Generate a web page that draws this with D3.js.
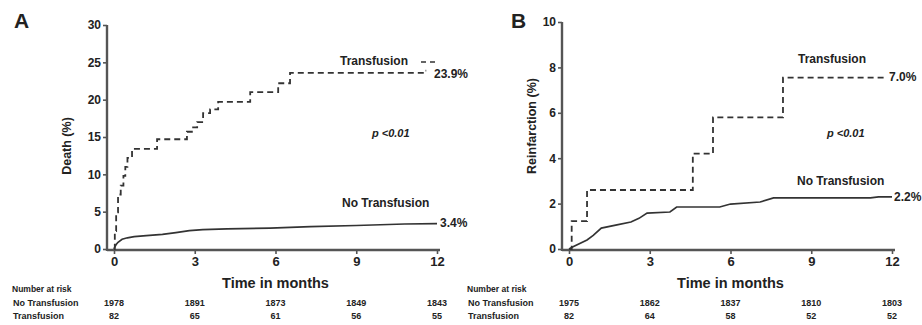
<!DOCTYPE html>
<html><head><meta charset="utf-8">
<script src="https://cdn.jsdelivr.net/npm/d3@7"></script>
<style>
body{margin:0;background:#fff;}
text{font-family:"Liberation Sans",Arial,sans-serif;fill:#222;}
</style></head>
<body>
<svg id="c" width="922" height="325"></svg>
<script>
// ---------- data ----------
const xTicks = [0, 3, 6, 9, 12];
const yTicksA = [0, 5, 10, 15, 20, 25, 30];
const yTicksB = [0, 2, 4, 6, 8, 10];

// Panel A: death
const deathTransfusion = [
  [0,0],[0.03,2.4],[0.08,4.9],[0.15,7.3],[0.25,8.5],[0.35,9.8],[0.42,11.0],[0.5,12.2],
  [0.67,13.4],[1.6,14.7],[2.71,15.7],[2.94,16.3],[3.09,17.0],[3.31,18.2],[3.57,18.7],
  [3.87,19.7],[5.06,21.0],[6.1,22.2],[6.54,23.6],[11.55,23.9],[11.6,23.9]
];
const deathNoTransfusion = [
  [0,0],[0.03,0.3],[0.08,0.6],[0.15,0.9],[0.3,1.3],[0.5,1.5],[0.75,1.65],[1.2,1.8],
  [1.8,1.95],[2.3,2.2],[2.8,2.45],[3.3,2.6],[4.2,2.7],[5.8,2.8],[7.3,3.0],[9.0,3.15],
  [10.8,3.35],[12,3.4]
];
// Panel B: reinfarction
const reinfTransfusion = [
  [0,0],[0.1,1.23],[0.67,2.6],[4.6,4.2],[5.35,5.8],[7.95,7.55],[11.7,7.55]
];
const reinfNoTransfusion = [
  [0,0],[0.15,0.1],[0.67,0.4],[0.9,0.6],[1.2,0.92],[1.78,1.06],[2.3,1.19],[2.6,1.35],
  [2.9,1.58],[3.75,1.63],[4.0,1.85],[5.6,1.85],[6.0,1.98],[7.1,2.07],[7.6,2.25],
  [11.2,2.25],[11.5,2.3],[12,2.3]
];

const riskA_no = ["1978","1891","1873","1849","1843"];
const riskA_tr = ["82","65","61","56","55"];
const riskB_no = ["1975","1862","1837","1810","1803"];
const riskB_tr = ["82","64","58","52","52"];

// ---------- drawing ----------
const svg = d3.select("#c");
const axisColor = "#555";
const lineColor = "#333";

function panel(cfg){
  const g = svg.append("g");
  const x = d3.scaleLinear().domain([0,12]).range(cfg.xr);
  const y = d3.scaleLinear().domain(cfg.yd).range(cfg.yr);
  const axX = cfg.xr[0] - 7;
  const axY = cfg.yr[0] + 1;

  // y axis
  const ya = g.append("g").attr("transform",`translate(${axX},0)`)
    .call(d3.axisLeft(y).tickValues(cfg.yTicks).tickSize(4).tickPadding(2));
  ya.select(".domain").remove();
  ya.selectAll("line").attr("stroke",axisColor).attr("stroke-width",1.6);
  ya.selectAll("text").style("font-size","12px").style("font-weight","bold").attr("fill","#222");
  g.append("line").attr("x1",axX).attr("x2",axX).attr("y1",y(cfg.yd[1])).attr("y2",axY+1)
    .attr("stroke",axisColor).attr("stroke-width",2.4);

  // x axis
  const xa = g.append("g").attr("transform",`translate(0,${axY})`)
    .call(d3.axisBottom(x).tickValues(xTicks).tickSize(4).tickPadding(3));
  xa.select(".domain").remove();
  xa.selectAll("line").attr("stroke",axisColor).attr("stroke-width",1.6);
  xa.selectAll("text").style("font-size","13px").style("font-weight","bold").attr("fill","#222");
  g.append("line").attr("x1",axX).attr("x2",x(12)+3).attr("y1",axY).attr("y2",axY)
    .attr("stroke",axisColor).attr("stroke-width",2.4);

  // axis titles
  g.append("text").attr("x",(x(0)+x(12))/2).attr("y",288).attr("text-anchor","middle")
    .style("font-size","14.5px").style("font-weight","bold").text("Time in months");
  g.append("text").attr("transform",`translate(${cfg.ytx},${cfg.yty}) rotate(-90)`)
    .attr("text-anchor","middle").style("font-size","12.5px").style("font-weight","bold").text(cfg.ytitle);

  // panel letter
  g.append("text").attr("x",cfg.letterX).attr("y",28).style("font-size","21px")
    .style("font-weight","bold").attr("fill","#111").text(cfg.letter);

  const step = d3.line().x(d=>x(d[0])).y(d=>y(d[1])).curve(d3.curveStepAfter);
  const smooth = d3.line().x(d=>x(d[0])).y(d=>y(d[1])).curve(d3.curveLinear);
  g.append("path").datum(cfg.solid).attr("d",smooth).attr("fill","none")
    .attr("stroke",lineColor).attr("stroke-width",1.7);
  g.append("path").datum(cfg.dashed).attr("d",step).attr("fill","none")
    .attr("stroke",lineColor).attr("stroke-width",1.8).attr("stroke-dasharray","6,4");

  // annotations
  for (const a of cfg.labels){
    g.append("text").attr("x",a.x).attr("y",a.y).attr("text-anchor",a.anchor||"start")
      .style("font-size",(a.size||12)+"px").style("font-weight","bold")
      .style("font-style",a.italic?"italic":"normal").text(a.t);
  }
  if (cfg.extra) cfg.extra(g,x,y);

  // number at risk
  g.append("text").attr("x",cfg.riskX).attr("y",292).style("font-size","8.5px").style("font-weight","bold").text("Number at risk");
  g.append("text").attr("x",cfg.riskX+1).attr("y",306).style("font-size","9px").style("font-weight","bold").text("No Transfusion");
  g.append("text").attr("x",cfg.riskX+1).attr("y",319).style("font-size","9px").style("font-weight","bold").text("Transfusion");
  g.selectAll(".rn").data(cfg.riskNo).join("text").attr("x",(d,i)=>x(xTicks[i])).attr("y",306)
    .attr("text-anchor","middle").style("font-size","9px").style("font-weight","bold").text(d=>d);
  g.selectAll(".rt").data(cfg.riskTr).join("text").attr("x",(d,i)=>x(xTicks[i])).attr("y",319)
    .attr("text-anchor","middle").style("font-size","9px").style("font-weight","bold").text(d=>d);
}

panel({
  xr:[114,437], yd:[0,30], yr:[249,25], yTicks:yTicksA,
  ytitle:"Death (%)", ytx:71, yty:146, letter:"A", letterX:14,
  solid:deathNoTransfusion, dashed:deathTransfusion,
  riskNo:riskA_no, riskTr:riskA_tr, riskX:12,
  labels:[
    {t:"Transfusion", x:340, y:65},
    {t:"23.9%", x:434, y:78},
    {t:"p <0.01", x:372, y:137, italic:true, size:11},
    {t:"No Transfusion", x:342, y:207},
    {t:"3.4%", x:440, y:227}
  ],
  extra:(g,x,y)=>{
    g.append("line").attr("x1",421).attr("x2",438).attr("y1",62).attr("y2",62)
      .attr("stroke",lineColor).attr("stroke-width",1.6).attr("stroke-dasharray","5,4");
  }
});

panel({
  xr:[569,892], yd:[0,10], yr:[249,22], yTicks:yTicksB,
  ytitle:"Reinfarction (%)", ytx:536, yty:126, letter:"B", letterX:511,
  solid:reinfNoTransfusion, dashed:reinfTransfusion,
  riskNo:riskB_no, riskTr:riskB_tr, riskX:467,
  labels:[
    {t:"Transfusion", x:798, y:63},
    {t:"7.0%", x:889, y:81},
    {t:"p <0.01", x:827, y:137, italic:true, size:11},
    {t:"No Transfusion", x:797, y:185},
    {t:"2.2%", x:894, y:201}
  ]
});
</script>
</body></html>
